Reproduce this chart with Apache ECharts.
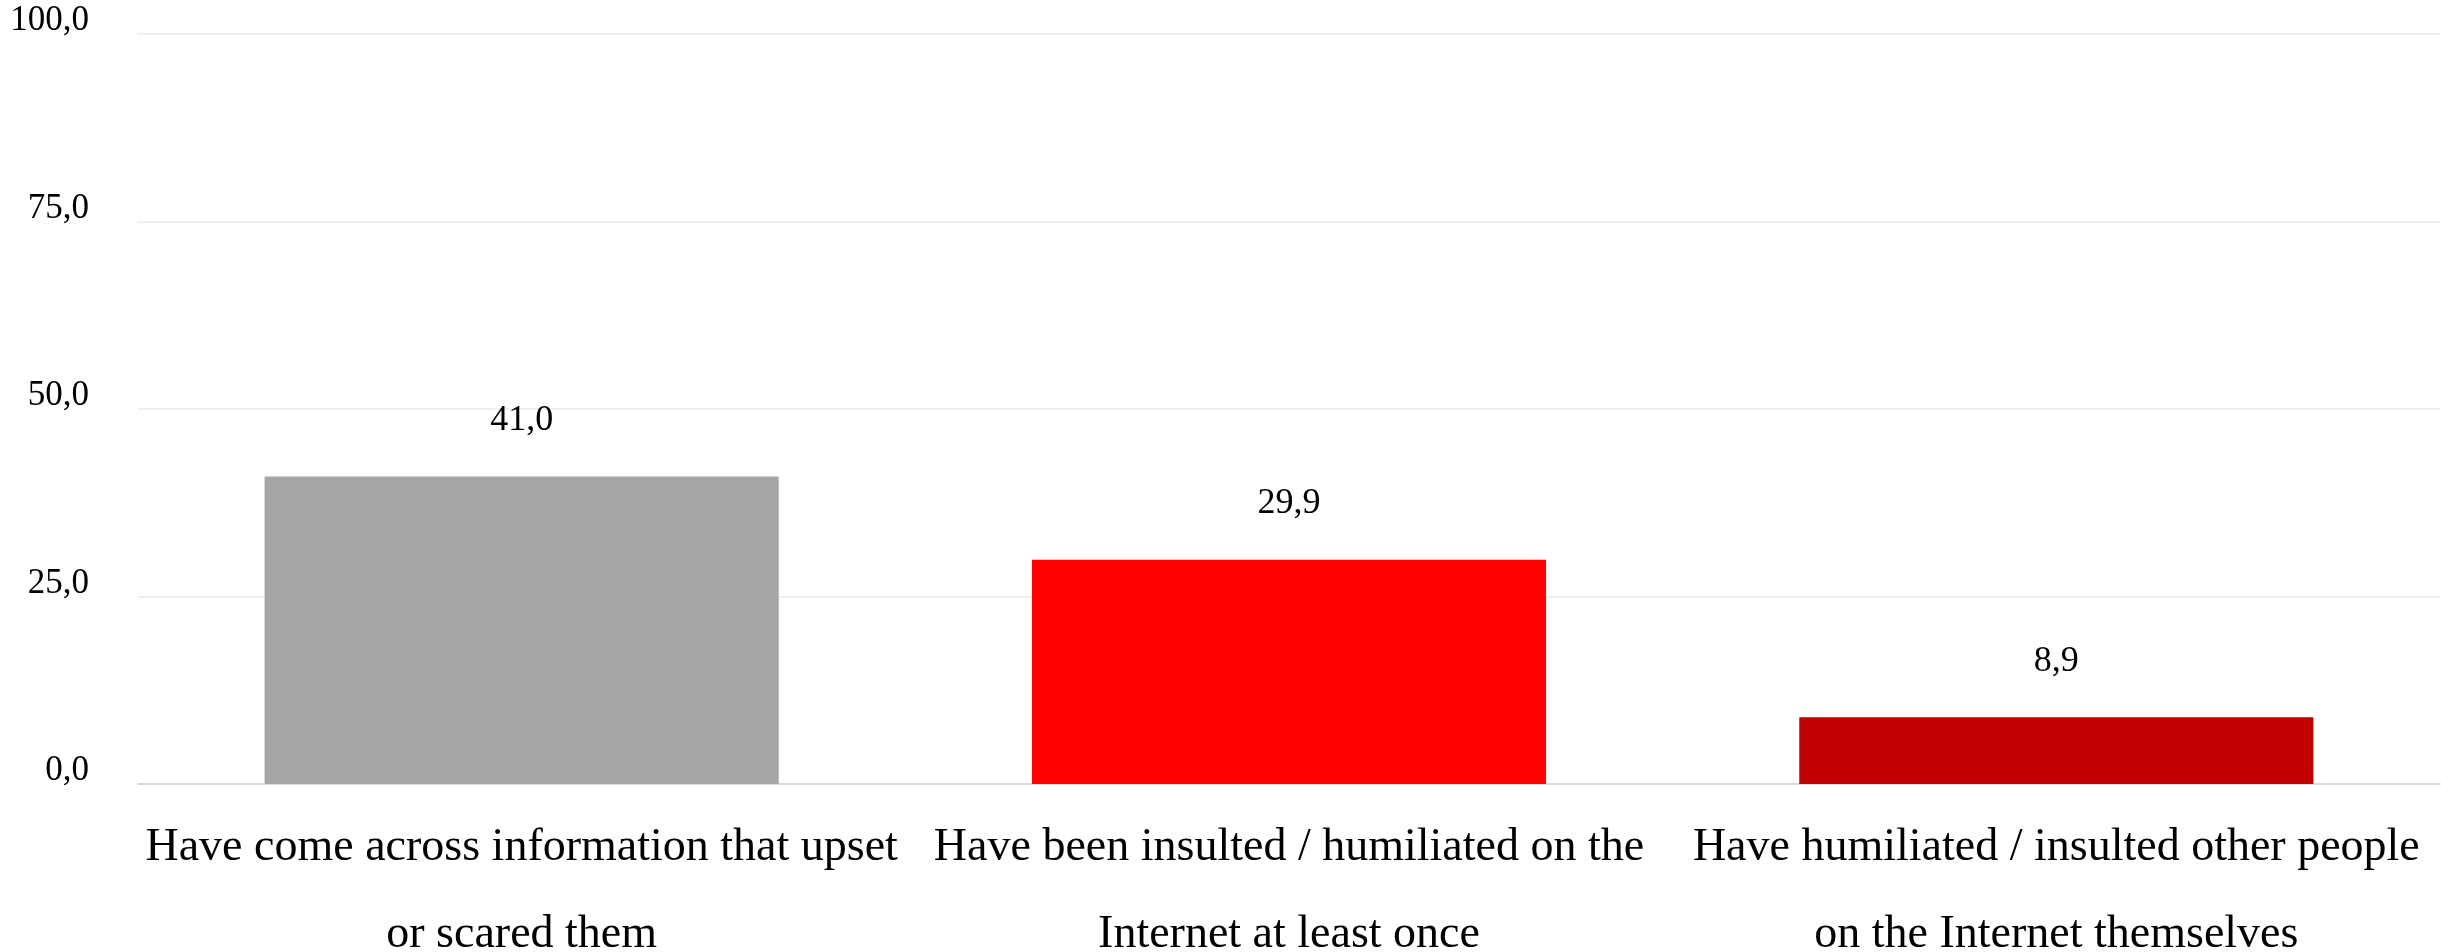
<!DOCTYPE html>
<html>
<head>
<meta charset="utf-8">
<script src="https://cdn.jsdelivr.net/npm/echarts@6/dist/echarts.min.js"></script>
<style>
html,body{margin:0;padding:0;background:#fff;}
#chart{width:2455px;height:952px;}
</style>
</head>
<body>
<div id="chart"></div>
<script>
const categories = [
  "Have come across information that upset\nor scared them",
  "Have been insulted / humiliated on the\nInternet at least once",
  "Have humiliated / insulted other people\non the Internet themselves"
];
const values = [41.0, 29.9, 8.9];
const barColors = ["#a6a6a6", "#ff0000", "#c00000"];
const yTicks = [0, 25, 50, 75, 100];

const fmt = v => Number(v).toFixed(1).replace('.', ',');
const font = "'Liberation Serif', 'DejaVu Serif', serif";

const chart = echarts.init(document.getElementById('chart'));
chart.setOption({
  animation: false,
  backgroundColor: '#ffffff',
  grid: { left: 138, right: 15, top: 34, bottom: 168, containLabel: false, outerBoundsMode: 'none' },
  xAxis: {
    type: 'category',
    data: categories,
    axisLine: { show: true, lineStyle: { color: '#d9d9d9', width: 2 } },
    axisTick: { show: false },
    axisLabel: {
      color: '#000000',
      fontFamily: font,
      fontSize: 46,
      lineHeight: 87,
      margin: 20,
      interval: 0
    }
  },
  yAxis: {
    type: 'value',
    min: yTicks[0],
    max: yTicks[yTicks.length - 1],
    interval: 25,
    axisLine: { show: false },
    axisTick: { show: false },
    splitLine: { show: true, lineStyle: { color: '#f0f0f0', width: 2 } },
    axisLabel: {
      color: '#000000',
      fontFamily: font,
      fontSize: 35,
      lineHeight: 26,
      margin: 49,
      verticalAlign: 'bottom',
      formatter: v => fmt(v)
    }
  },
  series: [{
    type: 'bar',
    data: values.map((v, i) => ({ value: v, itemStyle: { color: barColors[i] } })),
    barWidth: '67%',
    label: {
      show: true,
      position: 'top',
      distance: 38,
      color: '#000000',
      fontFamily: font,
      fontSize: 36,
      formatter: p => fmt(p.value)
    }
  }]
});
</script>
</body>
</html>
